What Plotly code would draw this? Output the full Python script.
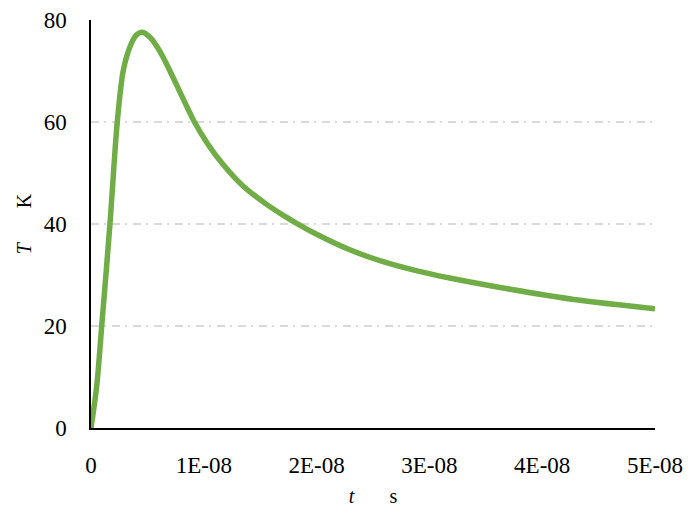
import plotly.graph_objects as go

# Temperature rise T (K) versus time t (s)
t_ns = [0, 0.5, 0.95, 1.68, 2.33, 2.87, 3.5, 4.0, 4.55, 5.23, 6.12, 7.0, 8.18,
        9.1, 10.26, 11.73, 13.5, 15.6, 17.05, 18.5, 20.0, 23.0, 25.9, 28.9,
        31.8, 36.9, 42.8, 50.0]
temp_K = [0, 8.1, 20, 40, 60, 70.2, 75.0, 77.0, 77.6, 76.6, 73.8, 70.0, 64.5,
          60.3, 56.0, 51.6, 47.4, 43.8, 41.7, 39.8, 38.0, 34.9, 32.6, 30.8,
          29.4, 27.3, 25.2, 23.4]
t_s = [v * 1e-9 for v in t_ns]

x_tick_vals = [0, 1e-8, 2e-8, 3e-8, 4e-8, 5e-8]
x_tick_text = ["0", "1E-08", "2E-08", "3E-08", "4E-08", "5E-08"]
y_tick_vals = [0, 20, 40, 60, 80]

serif = "Liberation Serif, Times New Roman, serif"
nb = "\u00a0"

fig = go.Figure(
    go.Scatter(
        x=t_s, y=temp_K, mode="lines",
        line=dict(color="#70AD47", width=5.5, shape="spline", smoothing=0.9),
        hoverinfo="skip",
    )
)

fig.update_layout(
    width=691, height=507,
    margin=dict(l=91, r=36, t=20, b=79),
    paper_bgcolor="white", plot_bgcolor="white",
    showlegend=False,
    font=dict(family=serif, size=23, color="black"),
)

fig.update_xaxes(
    range=[0, 5e-8], tickvals=x_tick_vals, ticktext=x_tick_text,
    showgrid=False, zeroline=False, automargin=False,
    showline=True, linecolor="black", linewidth=1.5,
    ticks="", ticklabelstandoff=16,
    title=dict(text="<i>t</i>" + nb * 7 + "s", font=dict(family=serif, size=20),
               standoff=14),
)
fig.update_yaxes(
    range=[0, 80], tickvals=y_tick_vals,
    showgrid=True, gridcolor="#D9D9D9", gridwidth=1.5,
    griddash="8px,5px,2px,6px",
    zeroline=False, automargin=False,
    showline=True, linecolor="black", linewidth=1.5,
    ticks="", ticklabelstandoff=18,
    title=dict(text="<i>T</i>" + nb * 7 + "K", font=dict(family=serif, size=20),
               standoff=7),
)

fig.write_html("out.html")
